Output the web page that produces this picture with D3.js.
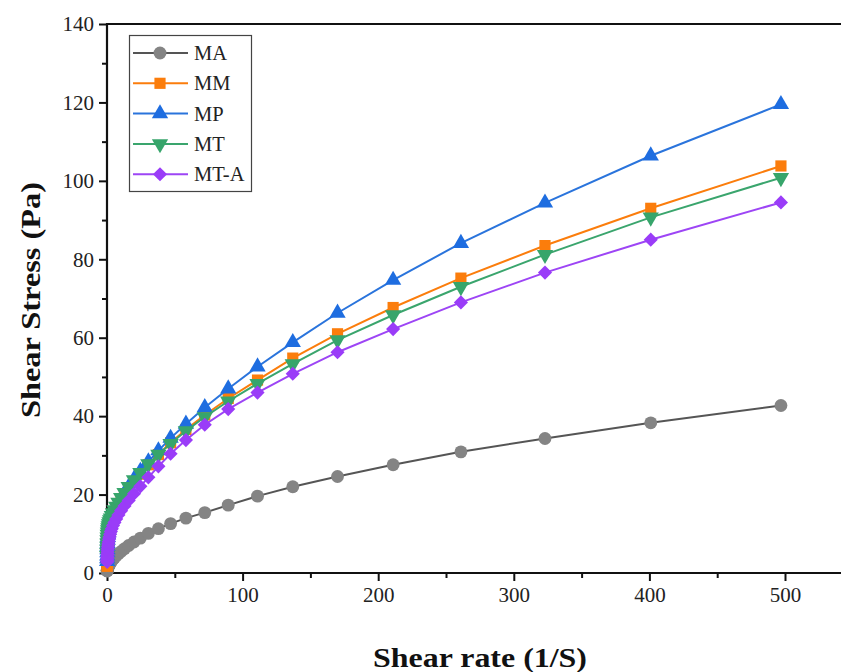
<!DOCTYPE html>
<html>
<head>
<meta charset="utf-8">
<script src="https://cdn.jsdelivr.net/npm/d3@7"></script>
<style>
  html, body { margin: 0; padding: 0; background: #fff; }
  svg { display: block; }
</style>
</head>
<body>
<svg id="chart" width="841" height="672"></svg>
<script>
// ─── Data ─────────────────────────────────────────────────────────────────────

const SHEAR_RATE = [0.115, 0.142, 0.176, 0.219, 0.271, 0.336, 0.416, 0.516, 0.64, 0.793,
  0.983, 1.22, 1.51, 1.87, 2.32, 2.88, 3.56, 4.42, 5.48, 6.79,
  8.42, 10.4, 12.9, 16.0, 19.9, 24.6, 30.5, 37.9, 46.9, 58.2,
  72.1, 89.4, 111, 137, 170, 211, 261, 323, 401, 497];

const MA = [0.51, 0.57, 0.64, 0.72, 0.8, 0.9, 1.0, 1.13, 1.26, 1.4,
  1.6, 1.8, 2.0, 2.2, 2.5, 2.8, 3.1, 3.5, 3.9, 4.4,
  4.9, 5.5, 6.2, 7.0, 7.9, 8.9, 10.1, 11.3, 12.6, 14.0,
  15.4, 17.3, 19.6, 22.0, 24.6, 27.6, 30.9, 34.3, 38.3, 42.7];

const MM = [1.7, 2.1, 2.6, 3.2, 3.8, 4.5, 5.2, 5.9, 6.6, 7.3,
  8.0, 8.7, 9.4, 10.1, 10.8, 11.6, 12.4, 13.3, 14.3, 15.4,
  16.6, 18.0, 19.5, 21.2, 23.1, 25.2, 27.6, 30.2, 33.2, 36.6,
  40.3, 44.5, 49.2, 54.8, 61.0, 67.7, 75.2, 83.5, 93.0, 103.8];

const MP = [3.0, 3.7, 4.4, 5.2, 6.0, 6.8, 7.6, 8.4, 9.1, 9.8,
  10.4, 11.0, 11.6, 12.2, 12.8, 13.4, 14.1, 14.9, 15.7, 16.7,
  17.8, 19.0, 20.4, 22.0, 23.9, 26.0, 28.4, 31.2, 34.4, 38.0,
  42.2, 47.0, 52.6, 58.8, 66.3, 74.7, 84.1, 94.4, 106.4, 119.5];

const MT = [4.4, 5.2, 6.0, 6.8, 7.6, 8.4, 9.1, 9.8, 10.4, 11.0,
  11.5, 12.0, 12.5, 13.0, 13.5, 14.0, 14.6, 15.3, 16.1, 17.0,
  18.0, 19.2, 20.5, 22.0, 23.7, 25.6, 27.8, 30.2, 33.0, 36.2,
  39.8, 43.8, 48.3, 53.3, 59.4, 65.8, 73.0, 81.2, 90.7, 100.8];

const MT_A = [2.8, 3.1, 3.5, 3.9, 4.3, 4.8, 5.3, 5.8, 6.3, 6.8,
  7.4, 8.0, 8.6, 9.2, 9.9, 10.6, 11.3, 12.1, 12.9, 13.8,
  14.8, 15.9, 17.1, 18.5, 20.2, 22.1, 24.4, 27.2, 30.4, 33.9,
  37.8, 41.8, 46.0, 50.8, 56.3, 62.2, 69.0, 76.6, 85.0, 94.5];

const X_TICKS = [0, 100, 200, 300, 400, 500];
const Y_TICKS = [0, 20, 40, 60, 80, 100, 120, 140];

// marker: d3 symbol type plus a rotation (down triangle, diamond = square turned 45°)
const SERIES = [
  { name: "MA",   values: MA,   marker: d3.symbolCircle,   rot: 0,   size: 130, fill: "#848484", line: "#555555" },
  { name: "MM",   values: MM,   marker: d3.symbolSquare,   rot: 0,   size: 125, fill: "#fb7d0c", line: "#fb7d0c" },
  { name: "MP",   values: MP,   marker: d3.symbolTriangle, rot: 0,   size: 115, fill: "#1e6de0", line: "#2a74dc" },
  { name: "MT",   values: MT,   marker: d3.symbolTriangle, rot: 180, size: 115, fill: "#37a56b", line: "#3aa56d" },
  { name: "MT-A", values: MT_A, marker: d3.symbolSquare,   rot: 45,  size: 100, fill: "#9a3cf8", line: "#9d45f5" },
];

// ─── Layout ───────────────────────────────────────────────────────────────────

const W = 841, H = 672;
const svg = d3.select("#chart");

const x = d3.scaleLinear().domain([0, 550]).range([107, 852.8]);
const y = d3.scaleLinear().domain([0, 140]).range([573, 24]);

const TICK_FONT = "'Liberation Serif', 'Times New Roman', serif";

// ─── Axes ─────────────────────────────────────────────────────────────────────

function styleAxis(g) {
  g.select(".domain").remove();
  g.selectAll("line").attr("stroke", "#111").attr("stroke-width", 2);
  g.selectAll("text")
    .attr("font-family", TICK_FONT)
    .attr("font-size", 21)
    .attr("fill", "#222");
}

svg.append("g")
  .attr("transform", `translate(0,${y(0)})`)
  .call(d3.axisBottom(x).tickValues(X_TICKS).tickSize(8).tickPadding(6))
  .call(styleAxis);

svg.append("g")
  .attr("transform", `translate(0,${y(0)})`)
  .call(d3.axisBottom(x).tickValues([50, 150, 250, 350, 450]).tickSize(5).tickFormat(""))
  .call(styleAxis);

svg.append("g")
  .attr("transform", `translate(${x(0)},0)`)
  .call(d3.axisLeft(y).tickValues(Y_TICKS).tickSize(8).tickPadding(5))
  .call(styleAxis);

svg.append("g")
  .attr("transform", `translate(${x(0)},0)`)
  .call(d3.axisLeft(y).tickValues([10, 30, 50, 70, 90, 110, 130]).tickSize(5).tickFormat(""))
  .call(styleAxis);

// frame lines (right side runs off the picture)
svg.append("line").attr("x1", x(0)).attr("x2", W).attr("y1", y(0)).attr("y2", y(0))
  .attr("stroke", "#111").attr("stroke-width", 2.2);
svg.append("line").attr("x1", x(0)).attr("x2", W).attr("y1", y(140)).attr("y2", y(140))
  .attr("stroke", "#111").attr("stroke-width", 2.2);
svg.append("line").attr("x1", x(0)).attr("x2", x(0)).attr("y1", y(140) - 1).attr("y2", y(0) + 1)
  .attr("stroke", "#111").attr("stroke-width", 2.2);

// ─── Axis titles ──────────────────────────────────────────────────────────────

svg.append("text")
  .attr("x", 480).attr("y", 667)
  .attr("text-anchor", "middle")
  .attr("font-family", TICK_FONT)
  .attr("font-weight", "bold")
  .attr("font-size", 27)
  .attr("textLength", 214)
  .attr("lengthAdjust", "spacingAndGlyphs")
  .attr("fill", "#111")
  .text("Shear rate (1/S)");

svg.append("text")
  .attr("transform", "translate(40,300) rotate(-90)")
  .attr("text-anchor", "middle")
  .attr("font-family", TICK_FONT)
  .attr("font-weight", "bold")
  .attr("font-size", 27)
  .attr("textLength", 236)
  .attr("lengthAdjust", "spacingAndGlyphs")
  .attr("fill", "#111")
  .text("Shear Stress (Pa)");

// ─── Series ───────────────────────────────────────────────────────────────────

const line = d3.line().x(d => x(d[0])).y(d => y(d[1]));

SERIES.forEach(s => {
  const pts = SHEAR_RATE.map((r, i) => [r, s.values[i]]);
  const sym = d3.symbol().type(s.marker).size(s.size)();
  const g = svg.append("g");
  g.append("path")
    .attr("d", line(pts))
    .attr("fill", "none")
    .attr("stroke", s.line)
    .attr("stroke-width", 2);
  g.selectAll("path.mk")
    .data(pts)
    .join("path")
    .attr("class", "mk")
    .attr("d", sym)
    .attr("transform", d => `translate(${x(d[0])},${y(d[1])}) rotate(${s.rot})`)
    .attr("fill", s.fill);
});

// ─── Legend ───────────────────────────────────────────────────────────────────

const legend = svg.append("g");
legend.append("rect")
  .attr("x", 129.5).attr("y", 35.5)
  .attr("width", 122).attr("height", 156)
  .attr("fill", "#fff")
  .attr("stroke", "#444")
  .attr("stroke-width", 1.2);

SERIES.forEach((s, i) => {
  const cy = 53 + i * 30.3;
  legend.append("line")
    .attr("x1", 133).attr("x2", 188).attr("y1", cy).attr("y2", cy)
    .attr("stroke", s.line).attr("stroke-width", 2);
  legend.append("path")
    .attr("d", d3.symbol().type(s.marker).size(s.size)())
    .attr("transform", `translate(160,${cy}) rotate(${s.rot})`)
    .attr("fill", s.fill);
  legend.append("text")
    .attr("x", 194).attr("y", cy + 7)
    .attr("font-family", TICK_FONT)
    .attr("font-size", 20.5)
    .attr("fill", "#222")
    .text(s.name);
});
</script>
</body>
</html>
